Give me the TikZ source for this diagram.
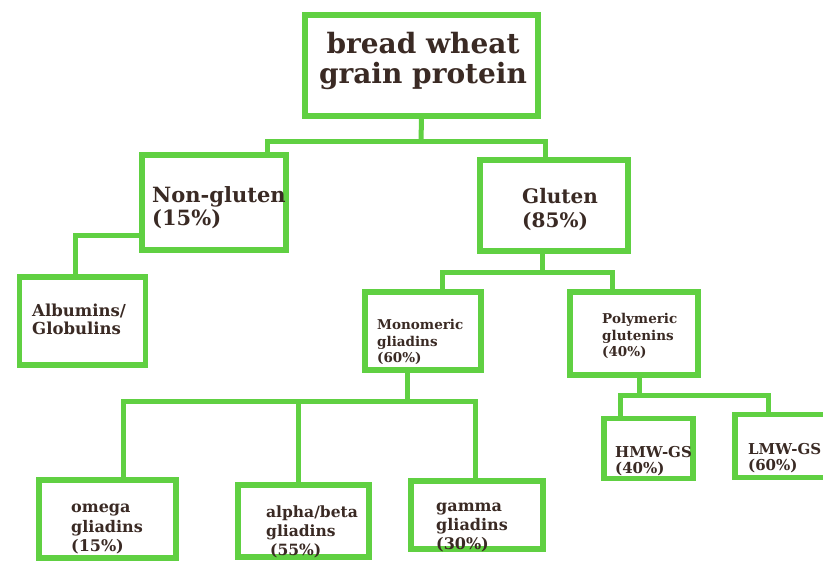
\documentclass[tikz,border=0pt]{standalone}
\usepackage{fontspec}
\setmainfont{DejaVu Serif}
\definecolor{boxgreen}{RGB}{96,208,66}
\definecolor{inkbrown}{RGB}{58,42,36}
\begin{document}
\begin{tikzpicture}[x=1pt,y=-1pt,
  box/.style={draw=boxgreen,line width=5.5pt,fill=white,rectangle,inner sep=0pt},
  conn/.style={draw=boxgreen,line width=5pt},
  lbl/.style={text=inkbrown,inner sep=0pt,align=left,font=\bfseries},
  ]
\useasboundingbox[fill=white] (0,0) rectangle (823,565);
% junction points of the connectors
\coordinate (h1L) at (267,141);
\coordinate (h1R) at (545,141);
\coordinate (h1M) at (421,141);
\coordinate (a1) at (75,235);
\coordinate (g1) at (542,272);
\coordinate (gL) at (442,272);
\coordinate (gR) at (612,272);
\coordinate (m1) at (407,401);
\coordinate (mL) at (123,401);
\coordinate (mM) at (298,401);
\coordinate (mR) at (475,401);
\coordinate (p1) at (639,395);
\coordinate (pL) at (620,395);
\coordinate (pR) at (768,395);
% boxes
\node[box,minimum width=233,minimum height=101] (top) at (421.5,65.5) {};
\node[box,minimum width=144,minimum height=95] (nong) at (214,202.5) {};
\node[box,minimum width=148,minimum height=91] (glu) at (554,205.5) {};
\node[box,minimum width=126,minimum height=88] (alb) at (82.5,321) {};
\node[box,minimum width=116,minimum height=78] (mono) at (423,331) {};
\node[box,minimum width=128,minimum height=83] (poly) at (634,333.5) {};
\node[box,minimum width=137,minimum height=78] (omega) at (107.5,519) {};
\node[box,minimum width=131,minimum height=72] (alpha) at (303.5,521) {};
\node[box,minimum width=132,minimum height=68] (gamma) at (477,515) {};
\node[box,minimum width=89,minimum height=60] (hmw) at (648.5,448.5) {};
\node[box,minimum width=100,minimum height=63] (lmw) at (785,446) {};
% connectors
\draw[conn] (top.south) -- (h1M);
\draw[conn] (nong.north -| h1L) -- (h1L) -- (h1R) -- (glu.north -| h1R);
\draw[conn] (nong.west |- a1) -- (a1) -- (alb.north -| a1);
\draw[conn] (glu.south -| g1) -- (g1);
\draw[conn] (mono.north -| gL) -- (gL) -- (gR) -- (poly.north -| gR);
\draw[conn] (mono.south -| m1) -- (m1);
\draw[conn] (omega.north -| mL) -- (mL) -- (mR) -- (gamma.north -| mR);
\draw[conn] (mM) -- (alpha.north -| mM);
\draw[conn] (poly.south -| p1) -- (p1);
\draw[conn] (hmw.north -| pL) -- (pL) -- (pR) -- (lmw.north -| pR);
% labels
\node[lbl,align=center,font=\bfseries\fontsize{28}{30}\selectfont] (ttop) at (423,61) {bread wheat\\grain protein};
\node[lbl,anchor=west,font=\bfseries\fontsize{21}{23}\selectfont] (tnong) at (152,208) {Non-gluten\\(15\%)};
\node[lbl,anchor=west,font=\bfseries\fontsize{20}{24}\selectfont] (tglu) at (522,209) {Gluten\\(85\%)};
\node[lbl,anchor=west,font=\bfseries\fontsize{16.5}{18}\selectfont] (talb) at (32,319) {Albumins/\\Globulins};
\node[lbl,anchor=west,font=\bfseries\fontsize{13.5}{16.5}\selectfont] (tmono) at (377,342) {Monomeric\\gliadins\\(60\%)};
\node[lbl,anchor=west,font=\bfseries\fontsize{13.5}{16.5}\selectfont] (tpoly) at (602,336) {Polymeric\\glutenins\\(40\%)};
\node[lbl,anchor=west,font=\bfseries\fontsize{16}{19.5}\selectfont] (tomega) at (71,529) {omega\\gliadins\\(15\%)};
\node[lbl,anchor=west,font=\bfseries\fontsize{15.5}{19}\selectfont] (talpha) at (266,532) {alpha/beta\\gliadins\\\hspace*{4pt}(55\%)};
\node[lbl,anchor=west,font=\bfseries\fontsize{16}{19}\selectfont] (tgamma) at (436,527) {gamma\\gliadins\\(30\%)};
\node[lbl,anchor=west,font=\bfseries\fontsize{15}{16.5}\selectfont] (thmw) at (615,461) {HMW-GS\\(40\%)};
\node[lbl,anchor=west,font=\bfseries\fontsize{15}{15.5}\selectfont] (tlmw) at (748,458) {LMW-GS\\(60\%)};
\end{tikzpicture}
\end{document}
